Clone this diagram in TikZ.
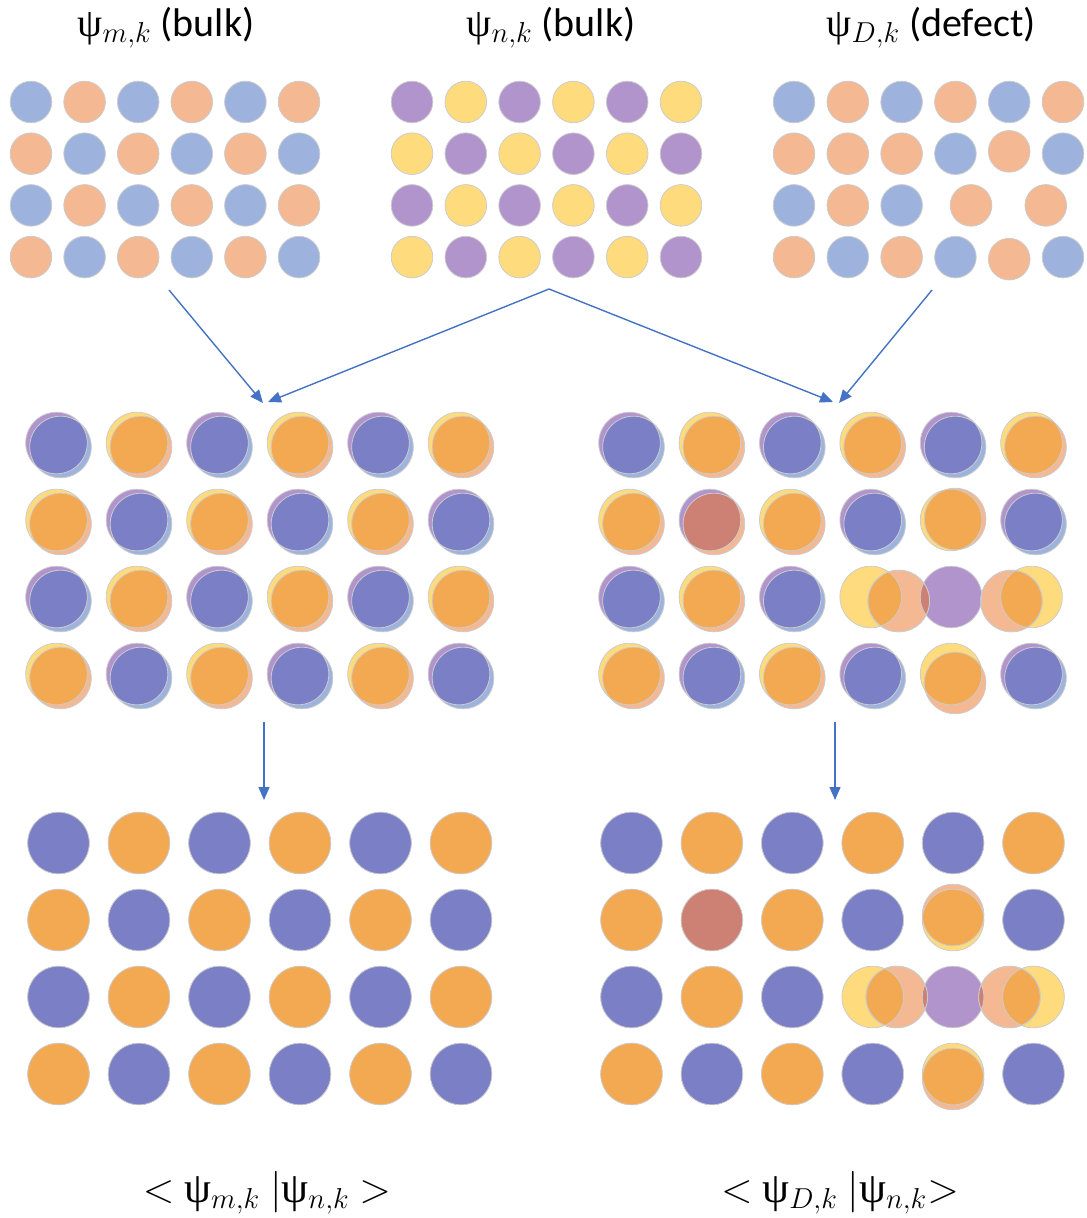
\documentclass[tikz,border=0pt]{standalone}
\usepackage{fontspec}
\setmainfont{Carlito}
\newfontfamily\psifont{Liberation Serif}
\usetikzlibrary{arrows.meta}

\definecolor{lblue}{HTML}{9DB3DE}
\definecolor{lorange}{HTML}{F4B893}
\definecolor{lpurple}{HTML}{B294CC}
\definecolor{lyellow}{HTML}{FEDB7C}
\definecolor{dblue}{HTML}{7B80C6}
\definecolor{dorange}{HTML}{F3A952}
\definecolor{dred}{HTML}{CD8074}
\definecolor{arrowblue}{HTML}{4472C4}

\newcommand{\wf}[1]{{\psifont ψ}$_{#1}$}
\newcommand{\rsmall}{10.4pt}
\newcommand{\rbig}{15.4pt}

% one atom of an input lattice, and a row of six
\newcommand{\atom}[3]{\path[fill=#3,rim] (#1,#2) circle (\rsmall);}
\newcommand{\arow}[7]{\atom{0}{#1}{#2}\atom{1}{#1}{#3}\atom{2}{#1}{#4}%
  \atom{3}{#1}{#5}\atom{4}{#1}{#6}\atom{5}{#1}{#7}}

% common part of two atoms
\newcommand{\lens}[3]{\begin{scope}\clip #1 circle (\rbig); \fill[#3] #2 circle (\rbig);\end{scope}}

% [shift of m atom]{col}{row}{n colour}{m colour}{overlap colour}
\newcommand{\pairat}[6][0pt,0pt]{%
  \path (#2,#3) ++(-\offs,\offs) coordinate (pn);
  \path (#2,#3) ++(\offs,-\offs) ++(#1) coordinate (pm);
  \fill[#4] (pn) circle (\rbig);
  \fill[#5] (pm) circle (\rbig);
  \lens{(pn)}{(pm)}{#6}
  \draw[rim] (pn) circle (\rbig) (pm) circle (\rbig);}
\newcommand{\pb}[3][0pt,0pt]{\pairat[#1]{#2}{#3}{lpurple}{lblue}{dblue}}
\newcommand{\yo}[3][0pt,0pt]{\pairat[#1]{#2}{#3}{lyellow}{lorange}{dorange}}

\newcommand{\bulkcells}{%
  \pb{0}{0}\yo{1}{0}\pb{2}{0}\yo{3}{0}\pb{4}{0}\yo{5}{0}
  \yo{0}{1}\pb{1}{1}\yo{2}{1}\pb{3}{1}\yo{4}{1}\pb{5}{1}
  \pb{0}{2}\yo{1}{2}\pb{2}{2}\yo{3}{2}\pb{4}{2}\yo{5}{2}
  \yo{0}{3}\pb{1}{3}\yo{2}{3}\pb{3}{3}\yo{4}{3}\pb{5}{3}}

\newcommand{\defectcells}{%
  \pb{0}{0}\yo{1}{0}\pb{2}{0}\yo{3}{0}\pb{4}{0}\yo{5}{0}
  \yo{0}{1}\pairat{1}{1}{lpurple}{lorange}{dred}\yo{2}{1}\pb{3}{1}\yo[0pt,2.5pt]{4}{1}\pb{5}{1}
  \pb{0}{2}\yo{1}{2}\pb{2}{2}
  \path (4,2) ++(-\offs,\offs) coordinate (vac);
  \fill[lpurple] (vac) circle (\rbig);
  \yo[12pt,0pt]{3}{2} \path (pm) coordinate (relax-l);
  \yo[-12pt,0pt]{5}{2} \path (pm) coordinate (relax-r);
  \lens{(vac)}{(relax-l)}{dred}
  \lens{(vac)}{(relax-r)}{dred}
  \draw[rim] (vac) circle (\rbig) (relax-l) circle (\rbig) (relax-r) circle (\rbig);
  \yo{0}{3}\pb{1}{3}\yo{2}{3}\pb{3}{3}\yo[0pt,-2.5pt]{4}{3}\pb{5}{3}}

\begin{document}
\begin{tikzpicture}[x={(0.5pt,0pt)},y={(0pt,-0.5pt)},
  rim/.style={draw=black!20, line width=0.4pt},
  lbl/.style={font=\fontsize{20}{22}\selectfont, inner sep=0pt},
  sum/.style={font=\fontsize{21.5}{24}\selectfont, inner sep=0pt},
  link/.style={draw=arrowblue, line width=0.7pt, -{Triangle[length=6.5pt,width=5.5pt]}}]

\useasboundingbox (0,0) rectangle (1086,1218);

\node[lbl] (lab-m) at (166,28) {\wf{m,k} (bulk)};
\node[lbl] (lab-n) at (551,28) {\wf{n,k} (bulk)};
\node[lbl] (lab-d) at (931,28) {\wf{D,k} (defect)};

% input lattices
\begin{scope}[shift={(31,102)},x={(26.8pt,0pt)},y={(0pt,-25.85pt)}]
\arow{0}{lblue}{lorange}{lblue}{lorange}{lblue}{lorange}
\arow{1}{lorange}{lblue}{lorange}{lblue}{lorange}{lblue}
\arow{2}{lblue}{lorange}{lblue}{lorange}{lblue}{lorange}
\arow{3}{lorange}{lblue}{lorange}{lblue}{lorange}{lblue}
\end{scope}
\begin{scope}[shift={(412,102)},x={(26.9pt,0pt)},y={(0pt,-25.85pt)}]
\arow{0}{lpurple}{lyellow}{lpurple}{lyellow}{lpurple}{lyellow}
\arow{1}{lyellow}{lpurple}{lyellow}{lpurple}{lyellow}{lpurple}
\arow{2}{lpurple}{lyellow}{lpurple}{lyellow}{lpurple}{lyellow}
\arow{3}{lyellow}{lpurple}{lyellow}{lpurple}{lyellow}{lpurple}
\end{scope}
\begin{scope}[shift={(794,102)},x={(26.9pt,0pt)},y={(0pt,-25.85pt)}]
\arow{0}{lblue}{lorange}{lblue}{lorange}{lblue}{lorange}
\atom{0}{1}{lorange}\atom{1}{1}{lorange}\atom{2}{1}{lorange}\atom{3}{1}{lblue}\atom{4}{0.955}{lorange}\atom{5}{1}{lblue}
\atom{0}{2}{lblue}\atom{1}{2}{lorange}\atom{2}{2}{lblue}\atom{3.29}{2}{lorange}\atom{4.68}{2}{lorange}
\atom{0}{3}{lorange}\atom{1}{3}{lblue}\atom{2}{3}{lorange}\atom{3}{3}{lblue}\atom{4}{3.04}{lorange}\atom{5}{3}{lblue}
\end{scope}

% overlaps
\begin{scope}[shift={(58.5,445)},x={(40.25pt,0pt)},y={(0pt,-38.5pt)}]
\def\offs{1pt}\bulkcells
\end{scope}
\begin{scope}[shift={(631.5,445)},x={(40.2pt,0pt)},y={(0pt,-38.5pt)}]
\def\offs{1pt}\defectcells
\end{scope}
\begin{scope}[shift={(58.5,843)},x={(40.25pt,0pt)},y={(0pt,-38.5pt)}]
\def\offs{0pt}\bulkcells
\end{scope}
\begin{scope}[shift={(631.5,843)},x={(40.2pt,0pt)},y={(0pt,-38.5pt)}]
\def\offs{0pt}\defectcells
\end{scope}

\coordinate (m-src) at (169,290);
\coordinate (n-src) at (549,289);
\coordinate (d-src) at (932,290);
\coordinate (bulk-in-a) at (263,403);
\coordinate (bulk-in-b) at (268,402);
\coordinate (defect-in-a) at (833,402);
\coordinate (defect-in-b) at (839,403);
\coordinate (bulk-out) at (264,722);
\coordinate (bulk-res) at (264,800);
\coordinate (defect-out) at (835,722);
\coordinate (defect-res) at (835,800);
\draw[link] (m-src) -- (bulk-in-a);
\draw[link] (n-src) -- (bulk-in-b);
\draw[link] (n-src) -- (defect-in-a);
\draw[link] (d-src) -- (defect-in-b);
\draw[link] (bulk-out) -- (bulk-res);
\draw[link] (defect-out) -- (defect-res);

\node[sum] (lab-mn) at (267,1193) {$<$ \wf{m,k} $|$\wf{n,k} $>$};
\node[sum] (lab-dn) at (840,1193) {$<$ \wf{D,k} $|$\wf{n,k}$>$};
\end{tikzpicture}
\end{document}
